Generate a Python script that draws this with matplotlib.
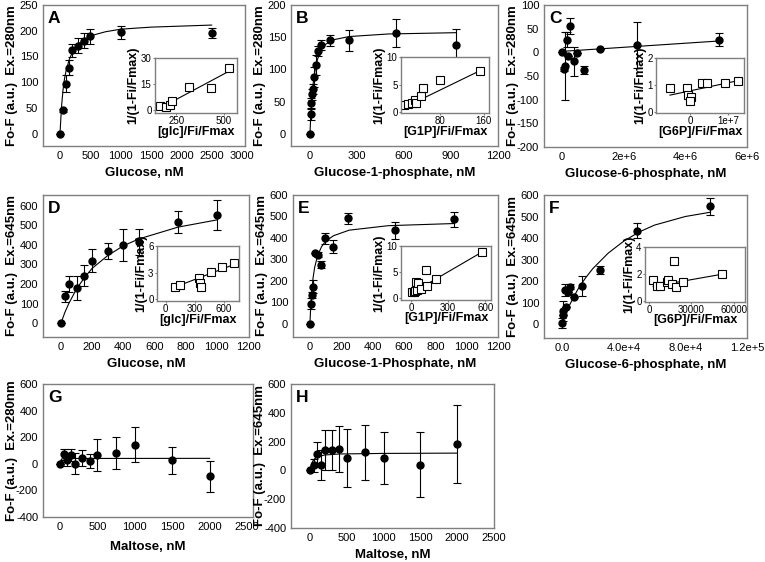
import numpy as np
import matplotlib
matplotlib.use('Agg')
from matplotlib import pyplot as plt

plt.rcParams['font.family'] = ['Liberation Sans', 'DejaVu Sans']
plt.rcParams['axes.unicode_minus'] = False

W, H = 765, 562

# ---- panel A: glucose, Ex.=280nm ----
a_x = [0, 50, 100, 150, 200, 300, 400, 500, 1000, 2500]
a_y = [0, 45, 97, 128, 162, 171, 181, 189, 197, 195]
a_err = [0, 3, 17, 15, 13, 15, 15, 15, 13, 10]
a_fit_x = [0, 25, 50, 75, 100, 150, 200, 300, 400, 500, 750, 1000, 1500, 2000, 2500]
a_fit_y = [0, 52, 85, 107, 122, 143, 157, 174, 183, 190, 198, 203, 207, 209, 211]
a_in_x = [162, 197, 215, 229, 317, 435, 526]
a_in_y = [2.2, 1.5, 2.8, 5.5, 13, 12.5, 24]
a_in_lx = [165, 530]
a_in_ly = [1.2, 22.5]

# ---- panel B: glucose-1-phosphate, Ex.=280nm ----
b_x = [0, 4, 8, 15, 19, 25, 38, 51, 70, 125, 250, 550, 930]
b_y = [0, 30, 48, 61, 69, 88, 107, 129, 138, 145, 145, 157, 138]
b_err = [0, 8, 8, 8, 8, 15, 15, 8, 8, 8, 16, 22, 24]
b_fit_x = [0, 5, 10, 20, 30, 40, 50, 75, 100, 150, 250, 500, 930]
b_fit_y = [0, 27, 48, 77, 95, 108, 117, 131, 139, 146, 151, 155, 157]
b_in_x = [13.5, 21.5, 27.7, 34.5, 35, 45, 49, 79, 154]
b_in_y = [1.3, 1.5, 1.6, 2.2, 1.6, 2.9, 4.4, 5.8, 7.4]
b_in_lx = [13, 155]
b_in_ly = [0.8, 7.6]

# ---- panel C: glucose-6-phosphate, Ex.=280nm ----
c_x = [0, 0.06e6, 0.09e6, 0.15e6, 0.21e6, 0.27e6, 0.38e6, 0.5e6, 0.73e6, 1.24e6, 2.45e6, 5.1e6]
c_y = [0, -35, -29, 27, -8, 56, -19, -1, -37, 6, 16, 27]
c_err = [0, 5, 72, 16, 0, 17, 31, 0, 9, 0, 49, 14]
c_fit_x = [0, 5.1e6]
c_fit_y = [2, 24]
c_in_x = [-0.53e7, -0.09e7, -0.05e7, 0.02e7, 0.0, 0.32e7, 0.45e7, 0.93e7, 1.27e7]
c_in_y = [0.9, 0.9, 0.63, 0.56, 0.4, 1.09, 1.09, 1.09, 1.15]
c_in_lx = [-0.53e7, 1.26e7]
c_in_ly = [0.63, 1.16]

# ---- panel D: glucose, Ex.=645nm ----
d_x = [0, 25, 50, 100, 150, 200, 300, 400, 500, 750, 1000]
d_y = [0, 137, 199, 181, 243, 320, 370, 400, 415, 515, 553]
d_err = [0, 28, 40, 60, 55, 58, 40, 83, 66, 55, 76]
d_fit_x = [0, 25, 50, 100, 150, 200, 300, 400, 500, 750, 1000]
d_fit_y = [0, 55, 100, 175, 232, 280, 345, 395, 430, 490, 527]
d_in_x = [95, 150, 345, 350, 360, 465, 580, 700]
d_in_y = [1.4, 1.55, 2.35, 1.8, 1.4, 3.05, 3.6, 4.1]
d_in_lx = [90, 700]
d_in_ly = [1.35, 3.9]

# ---- panel E: glucose-1-phosphate, Ex.=645nm ----
e_x = [0, 4, 11, 19, 32, 51, 70, 98, 147, 245, 545, 920]
e_y = [0, 94, 133, 172, 331, 322, 275, 398, 359, 492, 436, 487]
e_err = [0, 25, 15, 30, 0, 10, 15, 25, 30, 25, 40, 35]
e_fit_x = [0, 5, 10, 20, 30, 50, 75, 100, 150, 250, 500, 920]
e_fit_y = [0, 80, 137, 213, 262, 320, 360, 384, 410, 436, 457, 467]
e_in_x = [10, 20, 30, 40, 50, 60, 80, 120, 130, 200, 570]
e_in_y = [1.1, 1.2, 1.3, 3.0, 1.5, 2.8, 1.8, 5.3, 2.2, 3.7, 8.8]
e_in_lx = [10, 570]
e_in_ly = [1.0, 8.8]

# ---- panel F: glucose-6-phosphate, Ex.=645nm ----
f_x = [0, 600, 900, 1700, 2700, 3800, 5000, 8000, 13200, 24700, 48800, 96300]
f_y = [5, 40, 60, 158, 78, 148, 173, 124, 176, 252, 434, 548]
f_err = [25, 0, 45, 30, 0, 0, 12, 0, 45, 20, 35, 40]
f_fit_x = [0, 2500, 5000, 10000, 15000, 20000, 30000, 40000, 50000, 60000, 80000, 96300]
f_fit_y = [0, 48, 90, 158, 212, 258, 330, 385, 428, 460, 500, 520]
f_in_x = [3000, 5400, 8000, 12900, 13800, 16000, 17600, 19000, 24000, 52000]
f_in_y = [1.6, 1.1, 1.1, 1.4, 1.55, 1.3, 3.0, 1.05, 1.4, 2.0]
f_in_lx = [3000, 52000]
f_in_ly = [1.1, 2.0]

# ---- panel G / H: maltose ----
g_x = [0, 50, 100, 150, 200, 300, 400, 500, 750, 1000, 1500, 2000]
g_y = [0, 70, 30, 68, 0, 40, 22, 65, 82, 145, 25, -95]
g_err = [0, 45, 45, 45, 80, 60, 50, 120, 118, 135, 105, 115]
g_fit_x = [0, 20, 60, 2000]
g_fit_y = [0, 36, 40, 41]

h_x = [0, 50, 100, 150, 200, 300, 400, 500, 750, 1000, 1500, 2000]
h_y = [0, 35, 115, 40, 140, 140, 148, 85, 126, 89, 40, 182]
h_err = [0, 45, 85, 105, 140, 140, 160, 200, 190, 180, 225, 270]
h_fit_x = [0, 25, 50, 100, 200, 400, 1000, 2000]
h_fit_y = [0, 50, 75, 95, 107, 114, 118, 120]

FRAME = '#7f7f7f'
PX = 0.72  # points per pixel at dpi 100

fig = plt.figure(figsize=(W / 100, H / 100), dpi=100)


def px_axes(l, t, r, b):
    return fig.add_axes([l / W, 1 - b / H, (r - l) / W, (b - t) / H])


def main_panel(rect, xlim, ylim, xticks, yticks, letter, xlabel, ylabel,
               x, y, err, fx, fy, xticklabels=None, xlab_off=27):
    ax = px_axes(*rect)
    ax.set_xlim(xlim)
    ax.set_ylim(ylim)
    ax.set_xticks(xticks)
    ax.set_yticks(yticks)
    if xticklabels is not None:
        ax.set_xticklabels(xticklabels)
    else:
        ax.set_xticklabels([str(int(v)) for v in xticks])
    ax.set_yticklabels([str(int(v)) for v in yticks])
    for s in ax.spines.values():
        s.set_color(FRAME)
        s.set_linewidth(1.0)
    ax.tick_params(length=0, labelsize=8, pad=3.5)
    ax.plot(fx, fy, color='black', lw=0.8)
    ax.errorbar(x, y, yerr=err, fmt='o', color='black', ms=5, capsize=3,
                elinewidth=0.8, capthick=0.8)
    ax.text(5 / (rect[2] - rect[0]), 1 - 6 / (rect[3] - rect[1]), letter,
            transform=ax.transAxes, fontsize=12.5, fontweight='bold',
            ha='left', va='top')
    ax.annotate(xlabel, xy=(0.5, 0), xycoords='axes fraction',
                xytext=(0, -xlab_off * PX), textcoords='offset points',
                ha='center', va='center', fontsize=9.5, fontweight='bold')
    ax.annotate(ylabel, xy=(0, 0.5), xycoords='axes fraction',
                xytext=(-31 * PX, 0), textcoords='offset points',
                ha='center', va='center', rotation=90,
                fontsize=9.5, fontweight='bold')
    return ax


def inset(rect, xlim, ylim, xticks, yticks, xlabel, x, y, lx, ly,
          xticklabels=None):
    ax = px_axes(*rect)
    ax.set_xlim(xlim)
    ax.set_ylim(ylim)
    ax.set_xticks(xticks)
    ax.set_yticks(yticks)
    if xticklabels is not None:
        ax.set_xticklabels(xticklabels)
    else:
        ax.set_xticklabels([str(int(v)) for v in xticks])
    ylabels = [str(int(v)) for v in yticks]
    ax.set_yticklabels(ylabels)
    for s in ax.spines.values():
        s.set_color(FRAME)
        s.set_linewidth(1.0)
    ax.tick_params(length=1.5, color=FRAME, labelsize=7, pad=1)
    ax.plot(lx, ly, color='black', lw=0.8)
    ax.plot(x, y, 's', ms=6, mfc='white', mec='black', mew=0.8)
    # place the y label just left of the widest tick label
    nch = max(len(s) for s in ylabels)
    yoff = 4 + 5.4 * nch + 6.5
    ax.annotate(xlabel, xy=(0.5, 0), xycoords='axes fraction',
                xytext=(0, -18.5 * PX), textcoords='offset points',
                ha='center', va='center', fontsize=9, fontweight='bold')
    ax.annotate('1/(1-Fi/Fmax)', xy=(0, 0.5), xycoords='axes fraction',
                xytext=(-yoff * PX, 0), textcoords='offset points',
                ha='center', va='center', rotation=90,
                fontsize=9, fontweight='bold')
    return ax


lab280 = 'Fo-F (a.u.)  Ex.=280nm'
lab645 = 'Fo-F (a.u.)  Ex.=645nm'

main_panel((43, 5, 245, 146), (-280, 3050), (-24, 250), range(0, 3001, 500),
           range(0, 251, 50), 'A', 'Glucose, nM', lab280,
           a_x, a_y, a_err, a_fit_x, a_fit_y)
inset((155, 58, 237, 113), (137, 570), (-1.7, 30), [250, 500], [0, 15, 30],
      '[glc]/Fi/Fmax', a_in_x, a_in_y, a_in_lx, a_in_ly)

main_panel((291, 5, 498, 146), (-121, 1200), (-19, 200), range(0, 1201, 300),
           range(0, 201, 50), 'B', 'Glucose-1-phosphate, nM', lab280,
           b_x, b_y, b_err, b_fit_x, b_fit_y)
inset((401, 57, 489, 113), (8, 170), (-0.15, 10), [80, 160], [0, 5, 10],
      '[G1P]/Fi/Fmax', b_in_x, b_in_y, b_in_lx, b_in_ly)

main_panel((544, 5, 747, 147), (-0.58e6, 6e6), (-200, 100),
           [0, 2e6, 4e6, 6e6], range(-200, 101, 50), 'C',
           'Glucose-6-phosphate, nM', lab280,
           c_x, c_y, c_err, c_fit_x, c_fit_y,
           xticklabels=['0', '2e+6', '4e+6', '6e+6'])
inset((656, 58, 744, 113), (-0.9e7, 1.43e7), (-0.03, 2), [0, 1e7], [0, 1, 2],
      '[G6P]/Fi/Fmax', c_in_x, c_in_y, c_in_lx, c_in_ly,
      xticklabels=['0', '1e+7'])

main_panel((43, 195, 249, 337), (-115, 1206), (-70, 654), range(0, 1201, 200),
           range(0, 601, 100), 'D', 'Glucose, nM', lab645,
           d_x, d_y, d_err, d_fit_x, d_fit_y)
inset((157, 246, 239, 301), (-90, 755), (-0.2, 6), [0, 300, 600], [0, 3, 6],
      '[glc]/Fi/Fmax', d_in_x, d_in_y, d_in_lx, d_in_ly)

main_panel((293, 195, 498, 337), (-108, 1200), (-62, 600), range(0, 1201, 200),
           range(0, 601, 100), 'E', 'Glucose-1-Phosphate, nM', lab645,
           e_x, e_y, e_err, e_fit_x, e_fit_y)
inset((401, 246, 491, 300), (-81, 645), (-0.4, 10), [0, 300, 600], [0, 5, 10],
      '[G1P]/Fi/Fmax', e_in_x, e_in_y, e_in_lx, e_in_ly)

main_panel((544, 195, 747, 338), (-11700, 1.2e5), (-65, 600),
           [0, 4e4, 8e4, 1.2e5], range(0, 601, 100), 'F',
           'Glucose-6-phosphate, nM', lab645,
           f_x, f_y, f_err, f_fit_x, f_fit_y,
           xticklabels=['0.0', '4.0e+4', '8.0e+4', '1.2e+5'])
inset((645, 247, 745, 302), (-2800, 68000), (-0.05, 4), [0, 30000, 60000],
      [0, 2, 4], '[G6P]/Fi/Fmax', f_in_x, f_in_y, f_in_lx, f_in_ly)

main_panel((43, 384, 253, 517), (-227, 2580), (-400, 600), range(0, 2501, 500),
           range(-400, 601, 200), 'G', 'Maltose, nM', lab280,
           g_x, g_y, g_err, g_fit_x, g_fit_y, xlab_off=30)
main_panel((291, 384, 494, 528), (-258, 2500), (-400, 600), range(0, 2501, 500),
           range(-400, 601, 200), 'H', 'Maltose, nM', lab645,
           h_x, h_y, h_err, h_fit_x, h_fit_y)

fig.savefig('out.png', dpi=100)
